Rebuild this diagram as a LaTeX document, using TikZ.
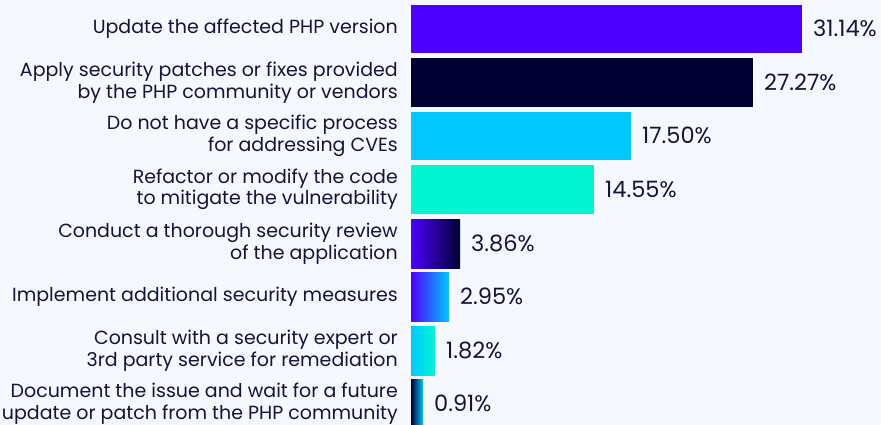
\documentclass[tikz,border=0pt]{standalone}
\usepackage{fontspec}
\setmainfont{Poppins}
\newfontfamily\figfont[Numbers=Monospaced]{Poppins}
\definecolor{bg}{HTML}{F5F8FF}
\definecolor{ink}{HTML}{14143A}
\definecolor{violet}{HTML}{4D00FF}
\definecolor{navy}{HTML}{000033}
\definecolor{sky}{HTML}{00C8FF}
\definecolor{aqua}{HTML}{00F5D0}
\tikzset{
  label/.style={anchor=east, align=right, text=ink, font=\fontsize{19}{21.5}\selectfont, inner sep=0pt},
  value/.style={anchor=west, text=ink, font=\figfont\fontsize{22.5}{24}\selectfont, inner sep=0pt},
}
\begin{document}
\begin{tikzpicture}[x=1pt,y=-1pt]
\fill[bg] (0,0) rectangle (881,425);
\useasboundingbox (0,0) rectangle (881,425);
% bars: 12.556 px per percent, starting at x=411
\fill[violet] (411,5) rectangle (802,53);
\fill[navy] (411,58) rectangle (753,107);
\fill[sky] (411,112) rectangle (631,160);
\fill[aqua] (411,165) rectangle (594,214);
\shade[left color=violet, right color=navy] (411,219) rectangle (460,268);
\shade[left color=violet, right color=sky] (411,272) rectangle (449,321);
\shade[left color=sky, right color=aqua] (411,326) rectangle (435,375);
\shade[left color=navy, right color=sky] (411,379) rectangle (423,428);
% category labels
\node[label] (l1) at (398,29) {Update the affected PHP version};
\node[label] (l2) at (398,82.5) {Apply security patches or fixes provided\\by the PHP community or vendors};
\node[label] (l3) at (398,136) {Do not have a specific process\\for addressing CVEs};
\node[label] (l4) at (398,189.5) {Refactor or modify the code\\to mitigate the vulnerability};
\node[label] (l5) at (398,243.5) {Conduct a thorough security review\\of the application};
\node[label] (l6) at (398,296.5) {Implement additional security measures};
\node[label] (l7) at (398,350.5) {Consult with a security expert or\\3rd party service for remediation};
\node[label] (l8) at (398,403.5) {Document the issue and wait for a future\\update or patch from the PHP community};
% values
\node[value] (v1) at (813,28.5) {31.14\%};
\node[value] (v2) at (764,82) {27.27\%};
\node[value] (v3) at (642,135.5) {17.50\%};
\node[value] (v4) at (605,189) {14.55\%};
\node[value] (v5) at (471,243) {3.86\%};
\node[value] (v6) at (460,296) {2.95\%};
\node[value] (v7) at (446,350) {1.82\%};
\node[value] (v8) at (434,403) {0.91\%};
\end{tikzpicture}
\end{document}
